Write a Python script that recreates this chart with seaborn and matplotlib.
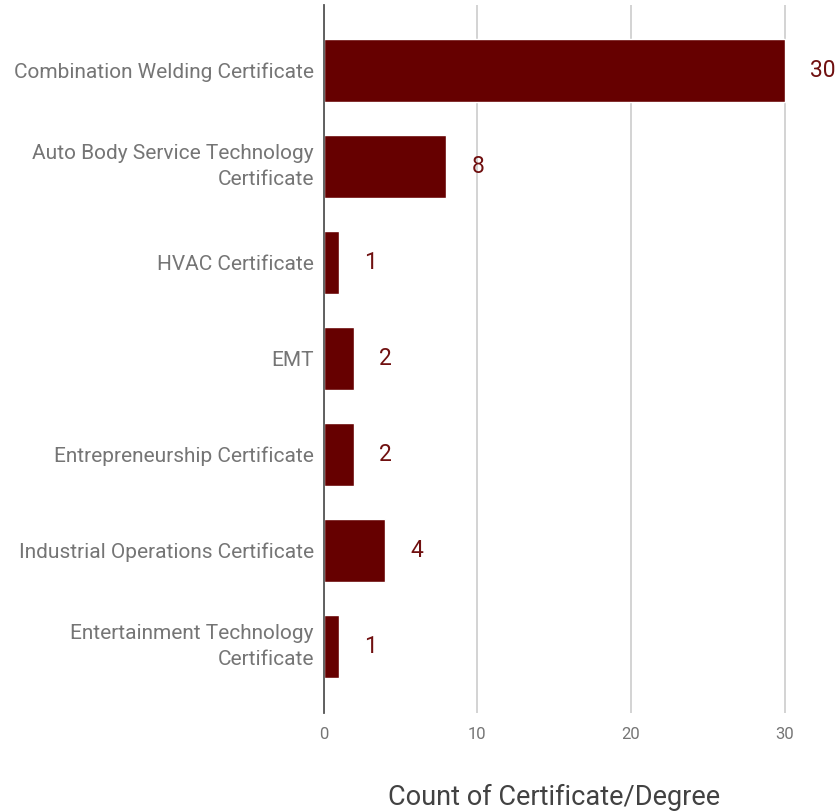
import matplotlib
matplotlib.use("Agg")
import matplotlib.pyplot as plt
import seaborn as sns
import pandas as pd

categories = [
    "Combination Welding Certificate",
    "Auto Body Service Technology\nCertificate",
    "HVAC Certificate",
    "EMT",
    "Entrepreneurship Certificate",
    "Industrial Operations Certificate",
    "Entertainment Technology\nCertificate",
]
counts = [30, 8, 1, 2, 2, 4, 1]
x_ticks = [0, 10, 20, 30]
x_label = "Count of Certificate/Degree"

sns.set_theme(style="white")
plt.rcParams["font.family"] = ["Roboto", "DejaVu Sans"]

df = pd.DataFrame({"category": categories, "count": counts})

fig = plt.figure(figsize=(8.38, 8.11), dpi=100)
ax = fig.add_axes([323.5 / 838, 1 - 713 / 811, 1 - 323.5 / 838, 708 / 811])

sns.barplot(data=df, x="count", y="category", orient="h", color="#660000",
            saturation=1, width=0.655, ax=ax)

ax.set_xlim(0, 33.47)
ax.set_ylim(6.69, -0.68)
ax.set_xticks(x_ticks)
ax.set_xticklabels([str(t) for t in x_ticks])
ax.grid(axis="x", color="#cccccc", linewidth=1.2)
ax.set_axisbelow(True)
for s in ["top", "right", "bottom"]:
    ax.spines[s].set_visible(False)
ax.spines["left"].set_color("#555555")
ax.spines["left"].set_linewidth(1.3)
ax.spines["left"].set_zorder(5)

ax.tick_params(axis="y", length=0, pad=7, labelsize=15, labelcolor="#757575")
ax.tick_params(axis="x", length=0, pad=10, labelsize=12, labelcolor="#757575")
for lbl in ax.get_yticklabels():
    lbl.set_linespacing(1.45)
    if "\n" in lbl.get_text():
        lbl.set_verticalalignment("center")
ax.set_ylabel("")
ax.set_xlabel(x_label, fontsize=19.5, color="#424242", labelpad=30)
ax.xaxis.label.set_x((554.5 - 323.5) / (838 - 323.5))

for i, v in enumerate(counts):
    ax.annotate(str(v), xy=(v, i), xytext=(25, 0), textcoords="offset pixels",
                va="center", ha="left", fontsize=16.5, color="#701010")

fig.savefig("out.png", dpi=100)
